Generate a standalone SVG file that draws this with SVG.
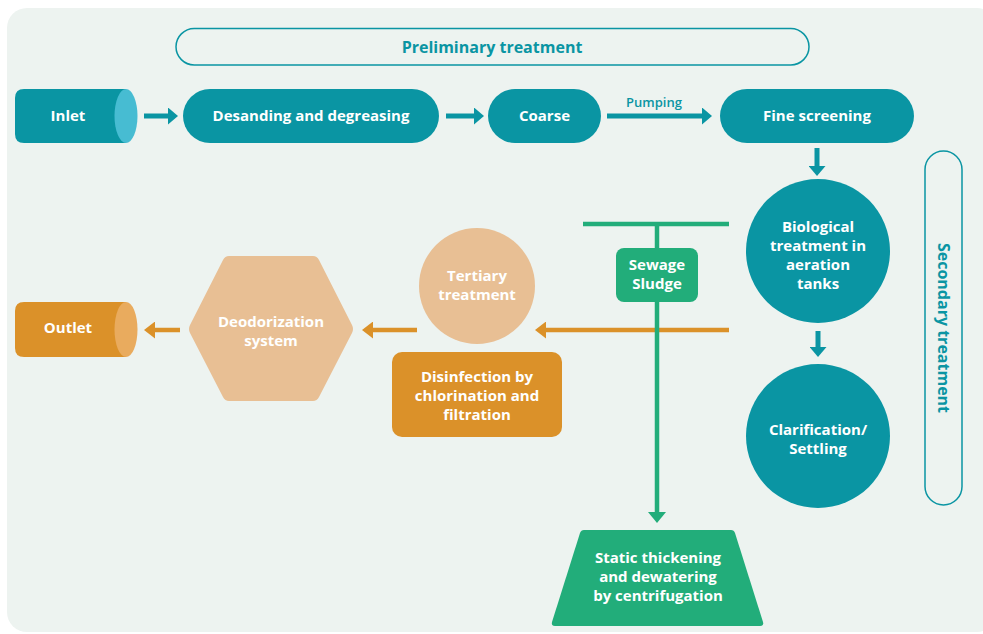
<svg xmlns="http://www.w3.org/2000/svg" width="983" height="634" viewBox="0 0 983 634">
<style>
.t{font-family:"Open Sans","Liberation Sans",sans-serif;font-weight:bold;font-size:15px;fill:#ffffff;text-anchor:middle}
.h{font-family:"Open Sans","Liberation Sans",sans-serif;font-weight:bold;font-size:16px;fill:#0a95a3;text-anchor:middle}
.lt{stroke:#0a95a3;stroke-width:5;fill:none}
.lo{stroke:#db9129;stroke-width:4.5;fill:none}
.lg{stroke:#22ad7a;stroke-width:4.5;fill:none}
</style>
<defs>
<marker id="ht" markerUnits="userSpaceOnUse" viewBox="0 0 10 17" refX="0" refY="8.5" markerWidth="10" markerHeight="17" orient="auto"><path d="M0,0 L10,8.5 L0,17 z" fill="#0a95a3"/></marker>
<marker id="ho" markerUnits="userSpaceOnUse" viewBox="0 0 11 17" refX="0" refY="8.5" markerWidth="11" markerHeight="17" orient="auto"><path d="M0,0 L11,8.5 L0,17 z" fill="#db9129"/></marker>
<marker id="hg" markerUnits="userSpaceOnUse" viewBox="0 0 11 18" refX="0" refY="9" markerWidth="11" markerHeight="18" orient="auto"><path d="M0,0 L11,9 L0,18 z" fill="#22ad7a"/></marker>
</defs>
<rect x="7" y="8" width="990" height="624" rx="20" fill="#edf3f0"/>

<g id="preliminary">
<rect x="176" y="28.5" width="633" height="36.5" rx="18.25" fill="none" stroke="#0a95a3" stroke-width="1.5"/>
<text class="h" x="492" y="52.5">Preliminary treatment</text>
</g>
<g id="secondary">
<rect x="925" y="151" width="37" height="354" rx="18.5" fill="none" stroke="#0a95a3" stroke-width="1.5"/>
<text class="h" transform="translate(937.5,328) rotate(90)" x="0" y="0">Secondary treatment</text>
</g>

<g id="inlet">
<path d="M24,89 L126,89 L126,143 L24,143 Q15,143 15,134 L15,98 Q15,89 24,89 z" fill="#0a95a3"/>
<ellipse cx="126" cy="116" rx="11.5" ry="27" fill="#47bcd2"/>
<text class="t" x="68" y="121">Inlet</text>
</g>
<g id="desanding">
<rect x="183" y="89" width="256" height="54" rx="27" fill="#0a95a3"/>
<text class="t" x="311" y="121">Desanding and degreasing</text>
</g>
<g id="coarse">
<rect x="488" y="89" width="113" height="54" rx="27" fill="#0a95a3"/>
<text class="t" x="544.5" y="121">Coarse</text>
</g>
<g id="fine">
<rect x="720" y="89" width="194" height="54" rx="27" fill="#0a95a3"/>
<text class="t" x="817" y="121">Fine screening</text>
</g>
<g id="biological">
<circle cx="818" cy="251" r="72" fill="#0a95a3"/>
<text class="t" x="818" y="232">Biological</text>
<text class="t" x="818" y="251">treatment in</text>
<text class="t" x="818" y="270">aeration</text>
<text class="t" x="818" y="289">tanks</text>
</g>
<g id="clarification">
<circle cx="818" cy="436" r="72" fill="#0a95a3"/>
<text class="t" x="818" y="435">Clarification/</text>
<text class="t" x="818" y="454">Settling</text>
</g>
<g id="sludge">
<rect x="616" y="248" width="82" height="54" rx="8" fill="#22ad7a"/>
<text class="t" x="657" y="270">Sewage</text>
<text class="t" x="657" y="289">Sludge</text>
</g>
<g id="thickening">
<path d="M584,530 L731,530 Q734,530 735,533 L763,622 Q764,626 760,626 L555,626 Q551,626 552,622 L580,533 Q581,530 584,530 z" fill="#22ad7a"/>
<text class="t" x="658" y="563">Static thickening</text>
<text class="t" x="658" y="582">and dewatering</text>
<text class="t" x="658" y="601">by centrifugation</text>
</g>
<g id="tertiary">
<circle cx="477" cy="286" r="58" fill="#e8bf94"/>
<text class="t" x="477" y="281">Tertiary</text>
<text class="t" x="477" y="300">treatment</text>
</g>
<g id="disinfection">
<rect x="392" y="352" width="170" height="85" rx="10" fill="#db9129"/>
<text class="t" x="477" y="382">Disinfection by</text>
<text class="t" x="477" y="401">chlorination and</text>
<text class="t" x="477" y="420">filtration</text>
</g>
<g id="deodorization">
<path d="M229,256 L313,256 Q317,256 319,260 L352,325 Q354,329 352,333 L319,397 Q317,401 313,401 L229,401 Q225,401 223,397 L190,333 Q188,329 190,325 L223,260 Q225,256 229,256 z" fill="#e8bf94"/>
<text class="t" x="271" y="327">Deodorization</text>
<text class="t" x="271" y="346">system</text>
</g>
<g id="outlet">
<path d="M24,302 L126,302 L126,357 L24,357 Q15,357 15,348 L15,311 Q15,302 24,302 z" fill="#db9129"/>
<ellipse cx="126" cy="329.5" rx="11.5" ry="27.5" fill="#e9ab5e"/>
<text class="t" x="68" y="333">Outlet</text>
</g>

<g id="connectors">
<line class="lt" x1="144" y1="116" x2="168" y2="116" marker-end="url(#ht)"/>
<line class="lt" x1="446" y1="116" x2="474" y2="116" marker-end="url(#ht)"/>
<line class="lt" x1="607" y1="116" x2="702" y2="116" marker-end="url(#ht)"/>
<text x="654" y="107" font-family="'Open Sans','Liberation Sans',sans-serif" font-size="13" font-weight="600" fill="#0a95a3" text-anchor="middle">Pumping</text>
<line class="lt" x1="817" y1="148" x2="817" y2="166" marker-end="url(#ht)"/>
<line class="lt" x1="818" y1="331" x2="818" y2="347" marker-end="url(#ht)"/>
<line class="lg" x1="583" y1="224" x2="729" y2="224"/>
<line class="lg" x1="657" y1="224" x2="657" y2="248"/>
<line class="lo" x1="729" y1="330" x2="546" y2="330" marker-end="url(#ho)"/>
<line class="lg" x1="657" y1="302" x2="657" y2="512" marker-end="url(#hg)"/>
<line class="lo" x1="417" y1="330" x2="373" y2="330" marker-end="url(#ho)"/>
<line class="lo" x1="180" y1="330" x2="155" y2="330" marker-end="url(#ho)"/>
</g>
</svg>
